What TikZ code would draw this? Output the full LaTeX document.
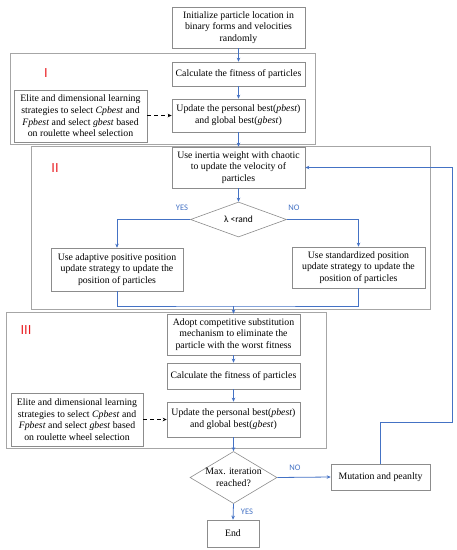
\documentclass[tikz,border=0pt]{standalone}
\usepackage{fontspec}
\setmainfont{Liberation Serif}
\newfontfamily\lblfont{Carlito}
\newfontfamily\romfont{Liberation Sans}
\usetikzlibrary{arrows.meta,shapes.geometric}
\definecolor{boxgray}{HTML}{8C8C8C}
\definecolor{grpgray}{HTML}{A6A6A6}
\definecolor{flowblue}{HTML}{4472C4}
\definecolor{romred}{HTML}{E8191E}
\begin{document}
\begin{tikzpicture}[x=1pt,y=-1pt,
  box/.style={draw=boxgray, line width=0.6pt, fill=white, align=center, inner sep=1pt,
    font=\fontsize{9.8}{11.7}\selectfont, minimum width=#1},
  box/.default=133,
  dec/.style={draw=boxgray, line width=0.6pt, shape=diamond, align=center, inner sep=0pt},
  grp/.style={draw=grpgray, line width=0.6pt},
  flow/.style={draw=flowblue, line width=0.8pt, -{Stealth[length=4pt,width=3.5pt]}},
  flowline/.style={draw=flowblue, line width=0.8pt},
  dasharrow/.style={draw=black, line width=0.9pt, dash pattern=on 4pt off 3pt, -{Stealth[length=4pt,width=3.5pt]}},
  yn/.style={text=flowblue, font=\lblfont\fontsize{8.5}{10}\selectfont, inner sep=0pt},
  roman/.style={text=romred, font=\romfont\fontsize{13}{13}\selectfont, inner sep=0pt}
]
\useasboundingbox (0,0) rectangle (457,550);

% group frames
\draw[grp] (10,53) rectangle (315,144);
\draw[grp] (31,146) rectangle (430,309);
\draw[grp] (6,312) rectangle (326,448);
\node[roman] (rI) at (46,73) {I};
\node[roman] (rII) at (55,168) {II};
\node[roman] (rIII) at (26,330) {III};

% nodes
\node[box, minimum height=41] (init) at (238.5,27.5) {Initialize particle location in\\binary forms and velocities\\randomly};
\node[box, minimum height=24] (calc1) at (238.5,74) {Calculate the fitness of particles};
\node[box, minimum height=33] (upd1) at (238.5,115.5) {Update the personal best(\textit{pbest})\\and global best(\textit{gbest})};
\node[box, minimum height=52] (elite1) at (80.5,116) {Elite and dimensional learning\\strategies to select \textit{Cpbest} and\\\textit{Fpbest} and select \textit{gbest} based\\on roulette wheel selection};

\node[box, minimum height=41] (inertia) at (238.5,167.5) {Use inertia weight with chaotic\\to update the velocity of\\particles};
\node[dec, minimum width=96, minimum height=35, aspect=2.7, font=\lblfont\fontsize{9.5}{11}\selectfont] (dec1) at (238.5,219.5) {λ <rand};
\node[box=132, minimum height=43] (adapt) at (117,269.5) {Use adaptive positive position\\update strategy to update the\\position of particles};
\node[box, minimum height=41] (std) at (358.5,267.5) {Use standardized position\\update strategy to update the\\position of particles};

\node[box, minimum height=41] (adopt) at (233.5,334.5) {Adopt competitive substitution\\mechanism to eliminate the\\particle with the worst fitness};
\node[box, minimum height=26] (calc2) at (233.5,376) {Calculate the fitness of particles};
\node[box, minimum height=35] (upd2) at (233.5,419.5) {Update the personal best(\textit{pbest})\\and global best(\textit{gbest})};
\node[box=132, minimum height=53] (elite2) at (77,419.5) {Elite and dimensional learning\\strategies to select \textit{Cpbest} and\\\textit{Fpbest} and select \textit{gbest} based\\on roulette wheel selection};

\node[dec, minimum width=85, minimum height=51, aspect=1.67, font=\fontsize{9.8}{11.7}\selectfont] (dec2) at (233.5,477.5) {Max. iteration\\reached?};
\node[box=99, minimum height=26] (mut) at (380.5,477) {Mutation and peanlty};
\node[box=52, minimum height=27] (end) at (233,533.5) {End};

\coordinate (merge) at (233.5,306);
\coordinate (fb) at (452,422);

% connectors
\draw[flow] (init) -- (calc1);
\draw[flow] (calc1) -- (upd1);
\draw[flow] (upd1) -- (inertia);
\draw[dasharrow] (elite1.east |- upd1.west) -- (upd1.west);
\draw[flow] (inertia) -- (dec1);
\draw[flow] (dec1.west) -| (adapt.north);
\draw[flow] (dec1.east) -| (std.north);
\node[yn] (yes1) at (182,208) {YES};
\node[yn] (no1) at (294,208) {NO};
\draw[flowline] (adapt.south) |- (merge) -| (std.south);
\draw[flow] (merge) -- (adopt.north);
\draw[flow] (adopt) -- (calc2);
\draw[flow] (calc2) -- (upd2);
\draw[dasharrow] (elite2.east |- upd2.west) -- (upd2.west);
\draw[flow] (upd2) -- (dec2.north);
\draw[flow] (dec2.east) -- (mut.west);
\node[yn] (no2) at (295,468) {NO};
\draw[flow] (dec2.south) -- (end.north);
\node[yn] (yes2) at (247,512) {YES};
\draw[flow] (mut.north) |- (fb) |- (inertia.east);
\end{tikzpicture}
\end{document}
